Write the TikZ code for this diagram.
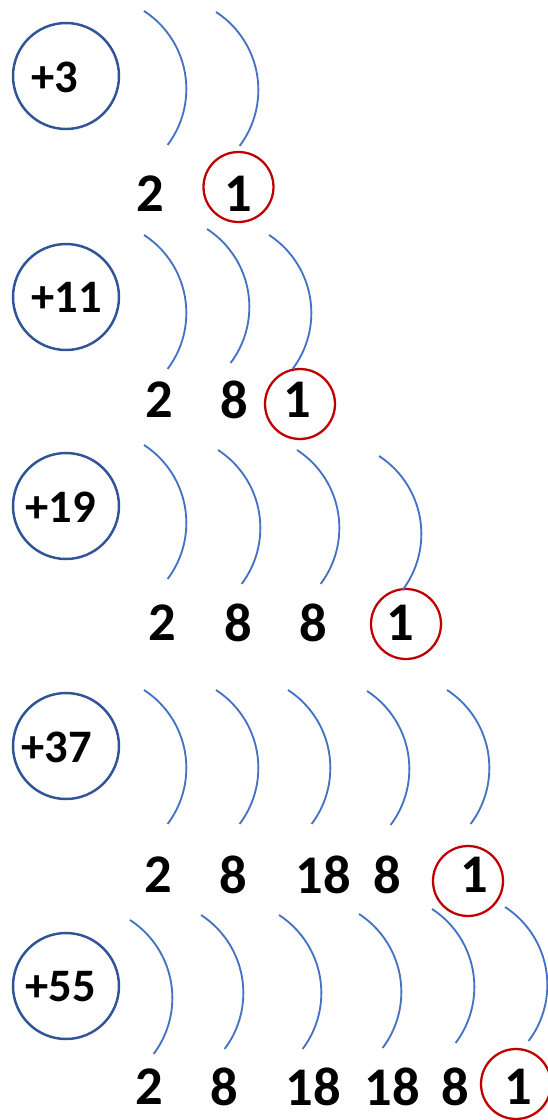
\documentclass[tikz,border=0pt]{standalone}
\usepackage{fontspec}
\setmainfont{Carlito}
\usepackage{xcolor}
\definecolor{cNucleus}{HTML}{2F5597}
\definecolor{cShell}{HTML}{4472C4}
\definecolor{cValence}{HTML}{C00000}
\usepackage{tikz}
\usetikzlibrary{positioning}
\tikzset{
  node-nucleus/.style={draw=cNucleus,line width=1.4pt,circle,
    minimum size=2.12cm,inner sep=0pt},
  node-charge/.style={inner sep=0pt,font=\fontsize{26.5}{30}\selectfont\bfseries},
  node-count/.style={inner sep=0pt,font=\fontsize{31}{36}\selectfont\bfseries},
  node-valence/.style={draw=cValence,line width=1.3pt,circle,
    minimum size=1.4cm,inner sep=0pt},
  % shell: starts at the top end, bulges to the right
  shell/.style={draw=cShell,line width=1.05pt},
}

\begin{document}
\begin{tikzpicture}[x=0.02cm,y=-0.02cm]
  \useasboundingbox (0,0) rectangle (548,1120);

  \node[node-nucleus] (n1) at (66,76) {};
  \node[node-charge]  (q1) at (55,77) {+3};
  \node[node-count]   (e11) at (150,194) {2};
  \node[node-count]   (e12) at (238,194) {1};
  \node[node-valence] (v1) at (238.5,187) {};

  \node[node-nucleus] (n2) at (66,297) {};
  \node[node-charge]  (q2) at (67,297) {+11};
  \node[node-count]   (e21) at (159,400) {2};
  \node[node-count]   (e22) at (234,400) {8};
  \node[node-count]   (e23) at (297,400) {1};
  \node[node-valence] (v2) at (300,404) {};

  \node[node-nucleus] (n3) at (66,506) {};
  \node[node-charge]  (q3) at (61,507) {+19};
  \node[node-count]   (e31) at (162,623) {2};
  \node[node-count]   (e32) at (238,623) {8};
  \node[node-count]   (e33) at (313,623) {8};
  \node[node-count]   (e34) at (400,623) {1};
  \node[node-valence] (v3) at (406,624) {};

  \node[node-nucleus] (n4) at (66,746) {};
  \node[node-charge]  (q4) at (57,747) {+37};
  \node[node-count]   (e41) at (158,875) {2};
  \node[node-count]   (e42) at (233,875) {8};
  \node[node-count]   (e43) at (323,875) {18};
  \node[node-count]   (e44) at (387,875) {8};
  \node[node-count]   (e45) at (474,875) {1};
  \node[node-valence] (v4) at (468,881) {};

  \node[node-nucleus] (n5) at (66,986) {};
  \node[node-charge]  (q5) at (61,987) {+55};
  \node[node-count]   (e51) at (149,1087) {2};
  \node[node-count]   (e52) at (224,1087) {8};
  \node[node-count]   (e53) at (313,1087) {18};
  \node[node-count]   (e54) at (392,1087) {18};
  \node[node-count]   (e55) at (455,1087) {8};
  \node[node-count]   (e56) at (518,1087) {1};
  \node[node-valence] (v5) at (516,1084) {};

  \foreach \xr/\ym in {186/89,258/90,
      186/313,249/307,311/313,
      186/523,260/528,339/528,421/534,
      186/768,258/768,330/768,409/769,489/768,
      172/998,243/993,321/993,401/992,474/987,547/985}
    \draw[shell] (\xr-42,\ym-78) arc[start angle=57,end angle=-37,radius=1.86cm];
\end{tikzpicture}
\end{document}
